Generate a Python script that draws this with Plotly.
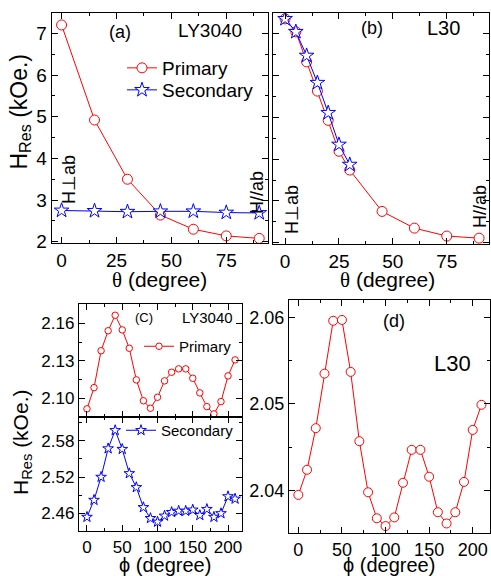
import plotly.graph_objects as go

W, H = 491, 576
FONT = "Liberation Sans, Arial, sans-serif"

# ---------------- data ----------------
theta_a = [0, 15, 30, 45, 60, 75, 90]
a_primary = [7.20, 4.92, 3.50, 2.64, 2.30, 2.14, 2.08]
a_secondary = [2.75, 2.74, 2.72, 2.73, 2.73, 2.70, 2.69]

theta_b_primary = [0, 5, 10, 15, 20, 25, 30, 45, 60, 75, 90]
b_primary = [7.36, 7.05, 6.33, 5.63, 4.93, 4.19, 3.74, 2.75, 2.35, 2.16, 2.11]
theta_b_secondary = [0, 5, 10, 15, 20, 25, 30]
b_secondary = [7.36, 7.05, 6.48, 5.83, 5.11, 4.35, 3.87]

phi = [0, 10, 20, 30, 40, 50, 60, 70, 80, 90, 100, 110, 120, 130, 140, 150,
       160, 170, 180, 190, 200, 210]
c_primary = [2.0915, 2.1085, 2.138, 2.154, 2.1664, 2.1547, 2.140, 2.1147,
             2.098, 2.092, 2.1008, 2.1139, 2.1208, 2.1235, 2.1235, 2.116,
             2.1043, 2.0933, 2.0875, 2.0973, 2.1179, 2.1307]
c_secondary = [2.454, 2.482, 2.520, 2.567, 2.597, 2.566, 2.526, 2.503,
               2.470, 2.452, 2.446, 2.456, 2.462, 2.464, 2.464, 2.466,
               2.457, 2.467, 2.454, 2.460, 2.488, 2.484]
d_l30 = [2.0395, 2.0424, 2.0472, 2.0535, 2.0596, 2.0597, 2.0537, 2.0457,
         2.0398, 2.0368, 2.0359, 2.0369, 2.0409, 2.0447, 2.0447, 2.0416,
         2.0375, 2.0362, 2.0375, 2.0410, 2.0470, 2.0499]

RED = "#ff0000"
BLUE = "#0000ff"


def px(p):
    return p / W


def py(p):
    return 1 - p / H


fig = go.Figure()


def circ(size, color=RED):
    return dict(symbol="circle", size=size, color="white",
                line=dict(color=color, width=1))


def star(size, color=BLUE):
    return dict(symbol="star", size=size, color="white",
                line=dict(color=color, width=1))


# (a)
fig.add_trace(go.Scatter(x=theta_a, y=a_primary, mode="lines+markers",
                         line=dict(color=RED, width=1), marker=circ(10),
                         name="Primary", xaxis="x", yaxis="y", legend="legend"))
fig.add_trace(go.Scatter(x=theta_a, y=a_secondary, mode="lines+markers",
                         line=dict(color=BLUE, width=1), marker=star(11),
                         name="Secondary", xaxis="x", yaxis="y", legend="legend4"))
# (b)
fig.add_trace(go.Scatter(x=theta_b_primary, y=b_primary, mode="lines+markers",
                         line=dict(color=RED, width=1), marker=circ(10),
                         showlegend=False, xaxis="x2", yaxis="y2"))
fig.add_trace(go.Scatter(x=theta_b_secondary, y=b_secondary, mode="lines+markers",
                         line=dict(color=BLUE, width=1), marker=star(11),
                         showlegend=False, xaxis="x2", yaxis="y2"))
# (c) top / bottom
fig.add_trace(go.Scatter(x=phi, y=c_primary, mode="lines+markers",
                         line=dict(color=RED, width=1), marker=circ(6.5),
                         name="Primary", xaxis="x3", yaxis="y3", legend="legend2"))
fig.add_trace(go.Scatter(x=phi, y=c_secondary, mode="lines+markers",
                         line=dict(color=BLUE, width=1), marker=star(8),
                         name="Secondary", xaxis="x4", yaxis="y4", legend="legend3"))
# (d)
fig.add_trace(go.Scatter(x=phi, y=d_l30, mode="lines+markers",
                         line=dict(color=RED, width=1), marker=circ(9),
                         showlegend=False, xaxis="x5", yaxis="y5"))


def ax(domain, rng, dtick, minor, size, labels=True, anchor=None, fmt=None):
    d = dict(domain=domain, range=rng, dtick=dtick, tick0=0, automargin=False,
             showline=True, linecolor="black", linewidth=1.3, mirror="ticks",
             ticks="inside", ticklen=6, tickwidth=1, tickcolor="black",
             minor=dict(dtick=minor, ticks="inside", ticklen=3, tickwidth=1,
                        tickcolor="black", showgrid=False),
             showgrid=False, zeroline=False, showticklabels=labels,
             tickfont=dict(size=size, color="black", family=FONT))
    if anchor:
        d["anchor"] = anchor
    if fmt:
        d["tickformat"] = fmt
    return d


def leg(x, y, size):
    return dict(x=px(x), y=py(y), xanchor="left", yanchor="top",
                bgcolor="rgba(0,0,0,0)", borderwidth=0,
                font=dict(size=size, color="black", family=FONT))


layout = dict(
    template="none",
    width=W, height=H, margin=dict(l=0, r=0, t=0, b=0, pad=0),
    paper_bgcolor="white", plot_bgcolor="white",
    font=dict(family=FONT, color="black"),
    xaxis=ax([px(51.7), px(268)], [-4.5, 94], 25, 12.5, 19, anchor="y"),
    yaxis=ax([py(243), py(13.3)], [1.97, 7.48], 1, 0.5, 19, anchor="x"),
    xaxis2=ax([px(273), px(489)], [-5.6, 94.6], 25, 12.5, 19, anchor="y2"),
    yaxis2=ax([py(244), py(13)], [1.97, 7.5], 1, 0.5, 19, labels=False, anchor="x2"),
    xaxis3=ax([px(79), px(242)], [-11.3, 219.8], 50, 25, 17, labels=False, anchor="y3"),
    yaxis3=ax([py(417), py(304)], [2.085, 2.1754], 0.03, 0.015, 17, anchor="x3", fmt=".2f"),
    xaxis4=ax([px(79), px(242)], [-11.3, 219.8], 50, 25, 17, anchor="y4"),
    yaxis4=ax([py(531), py(417)], [2.431, 2.619], 0.06, 0.03, 17, anchor="x4", fmt=".2f"),
    xaxis5=ax([px(289), px(490)], [-10.7, 219.8], 50, 25, 18, anchor="y5"),
    yaxis5=ax([py(533), py(300)], [2.0351, 2.062], 0.01, 0.005, 18, anchor="x5", fmt=".2f"),
    legend=leg(122, 49, 19),
    legend4=leg(122, 71, 19),
    legend2=leg(139, 330, 15),
    legend3=leg(121, 414, 15),
    showlegend=True,
)
fig.update_layout(**layout)


def note(x, y, text, size, angle=0):
    fig.add_annotation(x=px(x), y=py(y), xref="paper", yref="paper",
                       text=text, showarrow=False, textangle=angle,
                       xanchor="center", yanchor="middle",
                       font=dict(size=size, color="black", family=FONT))


TH = '<span style="font-family:Liberation Serif, serif">θ</span> (degree)'
PH = 'ϕ (degree)'
note(20, 111.5, "H<sub>Res</sub> (kOe.)", 23, -90)
note(22, 443, "H<sub>Res</sub> (kOe.)", 21, -90)
note(159, 280, TH, 21)
note(387, 280, TH, 21)
note(164.5, 565, PH, 20)
note(388.5, 565, PH, 20)
note(120, 32, "(a)", 18)
note(210, 30, "LY3040", 19)
note(372, 28, "(b)", 18)
note(443, 28, "L30", 20)
note(144, 317, "(C)", 13)
note(207, 317, "LY3040", 15)
note(394, 321, "(d)", 18)
note(452, 363, "L30", 22)
note(69, 180, "H⊥ab", 18, -90)
note(257, 193, "H//ab", 18, -90)
note(292, 210, "H⊥ab", 18, -90)
note(480, 207, "H//ab", 18, -90)

fig.write_html("out.html", config={"displayModeBar": False},
               post_script="document.body.style.margin='0';"
                           "document.body.style.overflow='hidden';")
